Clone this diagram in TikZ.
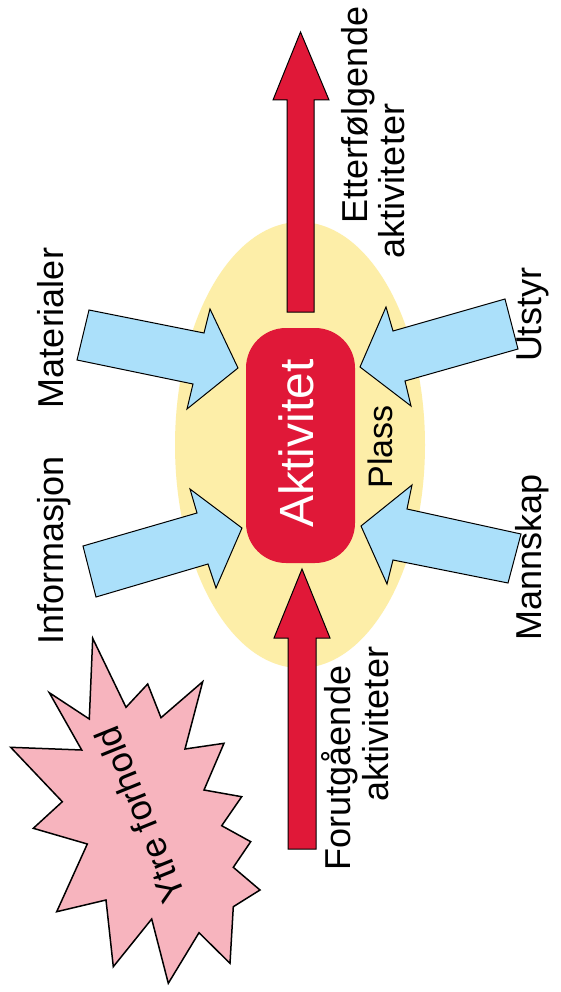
\documentclass[tikz,border=0pt]{standalone}
\usepackage{fontspec}
\setmainfont{Liberation Sans}
\usetikzlibrary{shapes.geometric}
\definecolor{ellfill}{RGB}{253,238,168}
\definecolor{actred}{RGB}{224,24,56}
\definecolor{arrblue}{RGB}{171,224,250}
\definecolor{starpink}{RGB}{247,180,190}
\begin{document}
\begin{tikzpicture}[x=1pt,y=-1pt,
  lbl/.style={rotate=90, anchor=base, inner sep=0pt, font=\fontsize{36}{42}\selectfont},
  bluearrow/.style={fill=arrblue, draw=black, line width=1pt, line join=miter},
  redarrow/.style={fill=actred, draw=black, line width=1pt, line join=miter},
  actbox/.style={fill=actred, draw=none, rounded corners=40pt, minimum width=109pt, minimum height=235pt, inner sep=0pt},
]
\useasboundingbox (0,0) rectangle (560,992);
\fill[white] (0,0) rectangle (560,992);
% area ellipse
\node[ellipse, fill=ellfill, draw=none, minimum width=250pt, minimum height=446pt, inner sep=0pt] (plassell) at (300,445) {};
% red arrows
\draw[redarrow] (287,312) -- (287,100) -- (273,100) -- (300.5,32) -- (329,100) -- (314,100) -- (314,312) -- cycle;
\draw[redarrow] (288,849) -- (288,638) -- (274,638) -- (302,569) -- (330,638) -- (316,638) -- (316,849) -- cycle;
% activity box
\node[actbox] (akt) at (300.5,445.5) {};
\node[rotate=90, inner sep=0pt, text=white, font=\fontsize{48}{54}\selectfont] (akttext) at (296.5,443.5) {Aktivitet};
% blue arrows
\draw[bluearrow] (89,310) -- (204,333) -- (210,309) -- (238,368) -- (187,409) -- (193,384) -- (77,360) -- cycle;
\draw[bluearrow] (83,546) -- (197,513) -- (190,489) -- (242,528) -- (216,588) -- (208,564) -- (96,597) -- cycle;
\draw[bluearrow] (505,299) -- (393,331) -- (386,307) -- (360,367) -- (411,406) -- (405,381) -- (518,349) -- cycle;
\draw[bluearrow] (521,534) -- (407,509) -- (412,485) -- (361,526) -- (387,584) -- (393,560) -- (508,583) -- cycle;
% star
\draw[fill=starpink, draw=black, line width=1.5pt, line join=miter]
  (92.7,638.3) -- (126,707.3) -- (147.7,684) -- (161,717.7) -- (202.7,681.7) -- (185,749) -- (224,743.3) -- (204,790)
  -- (241.7,796.7) -- (221.7,825.7) -- (250.7,841.7) -- (233.3,867.3) -- (260,890) -- (233.3,906.7) -- (230,963.3)
  -- (199,932.7) -- (168.3,983.3) -- (151.7,919) -- (113.3,966.7) -- (106,900) -- (56.7,911.7) -- (87.3,844)
  -- (33.3,828.3) -- (62.3,801.7) -- (10.7,747.3) -- (81.7,750) -- (49.3,692.7) -- (89.3,719) -- cycle;
\node[rotate=112, inner sep=0pt, font=\fontsize{36}{42}\selectfont] (ytre) at (140,815) {Ytre forhold};
% labels
\node[lbl] (mat) at (63,328) {Materialer};
\node[lbl] (inf) at (63,550) {Informasjon};
\node[lbl] (uts) at (541,315) {Utstyr};
\node[lbl] (man) at (541,557) {Mannskap};
\node[lbl] (ett1) at (367,115) {Etterfølgende};
\node[lbl] (ett2) at (404,181) {aktiviteter};
\node[lbl] (for1) at (350,768) {Forutgående};
\node[lbl] (for2) at (388,724) {aktiviteter};
\node[lbl, font=\fontsize{34}{40}\selectfont] (plass) at (392,447) {Plass};
\end{tikzpicture}
\end{document}
